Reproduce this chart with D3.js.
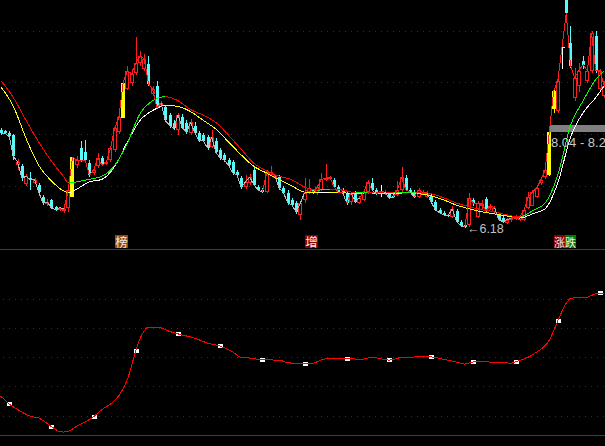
<!DOCTYPE html>
<html><head><meta charset="utf-8">
<script src="https://cdn.jsdelivr.net/npm/d3@7"></script>
<style>html,body{margin:0;padding:0;background:#000;overflow:hidden}svg{display:block}</style>
</head><body>
<svg id="chart" width="605" height="446"></svg>
<script>
// ---------- data ----------
const opens = [
8.08,8.06,8.02,7.98,7.40,7.38,7.04,7.15,7.06,7.02,
6.79,6.65,6.73,6.60,6.54,6.52,6.58,6.79,7.40,7.73,
7.65,7.44,7.25,7.38,7.54,7.42,7.50,7.69,8.04,8.31,
8.88,9.00,9.19,9.38,9.27,9.37,8.79,8.94,8.56,8.52,
8.37,8.21,8.08,8.33,8.21,8.02,8.17,8.02,7.98,7.94,
7.75,7.88,7.69,7.60,7.50,7.46,7.27,7.15,6.98,7.06,
7.31,6.98,6.92,6.88,7.21,7.15,7.17,6.96,6.87,6.73,
6.67,6.44,6.73,6.88,6.92,6.87,6.92,7.12,7.13,7.12,
6.98,6.92,6.87,6.69,6.87,6.67,6.73,6.88,7.06,6.92,
6.90,6.85,6.85,6.81,6.83,6.92,7.15,6.92,6.88,6.79,
6.87,6.79,6.81,6.69,6.54,6.48,6.44,6.40,6.52,6.31,
6.25,6.25,6.73,6.40,6.62,6.75,6.58,6.50,6.44,6.38,
6.29,6.35,6.37,6.35,6.35,6.58,6.62,6.79,7.06,7.17,
7.21,8.50,8.46,9.69,10.73,9.77,8.71,8.94,9.42,9.04,
9.23,9.90,8.88,8.75];
const closes = [
8.02,8.02,7.96,7.58,7.46,7.15,7.19,7.12,7.12,6.88,
6.67,6.69,6.58,6.54,6.58,6.56,6.92,7.56,7.50,7.50,
7.50,7.21,7.31,7.54,7.40,7.46,7.73,8.12,8.33,9.00,
9.23,9.17,9.38,9.52,9.46,8.98,8.87,8.52,8.60,8.27,
8.17,8.12,8.37,8.13,8.04,8.23,8.02,7.88,7.88,7.73,
7.94,7.65,7.54,7.50,7.40,7.25,7.21,6.98,7.08,7.17,
7.02,6.92,6.88,7.25,7.27,7.19,6.96,6.87,6.67,6.63,
6.50,6.67,6.87,6.96,6.88,6.98,7.13,7.15,7.17,6.98,
6.88,6.87,6.67,6.87,6.69,6.77,6.88,7.08,6.92,6.85,
6.90,6.88,6.77,6.79,6.92,7.17,6.92,6.88,6.79,6.92,
6.88,6.87,6.69,6.54,6.48,6.44,6.42,6.56,6.31,6.23,
6.21,6.77,6.67,6.67,6.65,6.52,6.62,6.58,6.35,6.31,
6.35,6.38,6.40,6.40,6.54,6.79,6.88,6.96,7.12,7.31,
8.04,8.83,9.04,9.69,10.35,9.33,9.10,9.23,9.35,9.23,
9.96,9.23,9.23,8.94];
const highs = [
8.12,8.08,8.06,8.00,7.52,7.42,7.23,7.27,7.15,7.06,
6.83,6.75,6.75,6.62,6.60,6.58,6.96,7.56,7.58,7.88,
7.90,7.50,7.35,7.63,7.58,7.50,7.77,8.15,8.38,9.04,
9.33,9.27,9.88,9.62,9.56,9.52,8.94,9.04,8.65,8.56,
8.42,8.27,8.42,8.40,8.27,8.29,8.23,8.06,8.02,7.98,
8.08,7.92,7.73,7.63,7.54,7.50,7.31,7.19,7.21,7.23,
7.38,7.02,6.96,7.31,7.38,7.23,7.21,7.00,6.92,6.77,
6.71,6.71,7.15,7.13,6.94,7.02,7.25,7.42,7.19,7.15,
7.02,6.96,6.90,6.88,6.90,6.81,6.92,7.12,7.15,6.96,
7.02,6.92,6.87,6.85,7.10,7.37,7.21,6.96,6.92,6.96,
6.92,6.90,6.85,6.73,6.58,6.52,6.46,6.62,6.56,6.35,
6.29,6.87,6.77,6.71,6.73,6.79,6.65,6.62,6.48,6.42,
6.38,6.42,6.44,6.44,6.58,6.88,6.92,7.02,7.15,7.35,
8.08,8.88,9.13,9.73,10.77,10.10,9.29,9.38,9.52,9.31,
10.00,10.00,9.27,9.04];
const lows = [
7.98,8.00,7.94,7.50,7.31,7.10,7.00,6.92,7.04,6.87,
6.63,6.62,6.56,6.52,6.52,6.48,6.50,6.79,7.35,7.46,
7.44,7.17,7.21,7.35,7.38,7.40,7.46,7.65,8.00,8.31,
8.85,8.94,9.15,9.33,9.23,8.94,8.75,8.50,8.52,8.23,
8.13,8.08,7.98,8.12,8.00,7.98,7.98,7.85,7.87,7.69,
7.73,7.63,7.50,7.46,7.37,7.21,7.17,6.94,6.94,7.02,
7.00,6.90,6.87,6.87,7.19,7.13,6.92,6.85,6.63,6.62,
6.46,6.35,6.67,6.85,6.85,6.83,6.90,7.10,7.12,6.96,
6.87,6.85,6.63,6.63,6.67,6.65,6.71,6.85,6.90,6.83,
6.79,6.83,6.75,6.77,6.81,6.88,6.90,6.87,6.77,6.77,
6.85,6.77,6.67,6.52,6.46,6.42,6.40,6.38,6.29,6.21,
6.18,6.21,6.62,6.38,6.54,6.48,6.54,6.48,6.33,6.29,
6.27,6.31,6.35,6.33,6.33,6.56,6.62,6.77,7.02,7.13,
7.19,8.42,8.42,9.27,10.31,9.29,8.65,8.81,9.27,9.00,
9.19,9.19,8.85,8.71];
const limitUpDays = [17, 29, 130, 131];

const maDays = [0,3,6,9,12,15,16,18,21,24,27,30,33,36,39,42,45,48,51,54,57,60,63,66,69,72,75,78,81,84,87,90,93,96,99,102,105,108,111,114,117,120,123,126,129,132,135,138,141,143];
const maUpper = [9.04,8.71,8.27,7.85,7.48,7.17,7.06,7.08,7.13,7.19,7.40,7.83,8.40,8.65,8.73,8.65,8.48,8.37,8.23,7.98,7.71,7.44,7.29,7.19,7.12,6.98,6.92,6.94,6.92,6.87,6.88,6.87,6.87,6.88,6.88,6.85,6.77,6.67,6.60,6.54,6.50,6.44,6.40,6.52,6.67,7.21,8.17,8.65,9.06,9.23];
const maLower = [8.92,8.54,7.92,7.40,7.10,6.90,6.87,6.94,7.08,7.13,7.38,7.85,8.27,8.46,8.56,8.54,8.44,8.27,8.10,7.85,7.60,7.38,7.25,7.12,7.00,6.88,6.87,6.88,6.87,6.85,6.87,6.85,6.85,6.87,6.85,6.81,6.73,6.63,6.56,6.50,6.46,6.42,6.38,6.46,6.56,7.06,7.94,8.42,8.71,8.94];

const priceTicks = [7, 8, 9, 10];
const bandRange = [8.04, 8.18];
const bandText = "8.04 - 8.2";
const tagDays = [27, 72, 131];
const tagTexts = ["榜", "增", "涨跌"];

const indDays = [-1,0,2,4,7,9,12,14,15,16,18,20,22,24,26,28,30,32,33,34,35,37,38,40,42,46,49,52,55,57,59,62,66,68,72,74,76,78,80,82,86,88,90,92,94,95,102,105,108,110,112,118,121,122,125,127,130,132,134,135,137,139,140,142,143];
const indValues = [35,33.5,28.2,24.5,19.8,18.6,12.7,9.3,9.0,9.5,13,15.9,19.5,24.5,28.2,34,45,64.6,73,78.5,80.9,81,80.4,78,76.3,73.3,70,67.9,63.8,60,59.7,58.5,58.3,56.5,55.8,56.2,58.5,59.7,59.7,59.2,59.0,60.3,59.2,58.3,59.5,60.3,60.5,58.8,57,55.6,57.1,56.9,56.2,57.1,60.3,63.8,72,85.2,97.3,100.5,101.4,101.4,102.7,104.3,104.3];
const indTicks = [20, 40, 60, 80, 100];
const markerDays = [2,12,22,32,42,52,62,72,82,92,102,112,122,132,142];

// ---------- drawing ----------
const W = 605, H = 446;
const svg = d3.select("#chart");
svg.append("rect").attr("width", W).attr("height", H).attr("fill", "#000");
const defs = svg.append("defs");
defs.append("clipPath").attr("id", "clipTop").append("rect").attr("x", 0).attr("y", 0).attr("width", W).attr("height", 248);
defs.append("clipPath").attr("id", "clipBot").append("rect").attr("x", 0).attr("y", 250).attr("width", W).attr("height", 185);

const x = d3.scaleLinear().domain([0, 143]).range([0.76, 604.2]);
const y = d3.scaleLinear().domain([7, 10]).range([186, 31]);
const yi = d3.scaleLinear().domain([20, 100]).range([416, 299.3]);

const RED = "#ff1c1c", CYAN = "#54fcfc", GRID = "#a80000";

// grid lines
svg.append("g").selectAll("line").data(priceTicks).join("line")
  .attr("x1", 3).attr("x2", W)
  .attr("y1", d => Math.floor(y(d)) + 0.5).attr("y2", d => Math.floor(y(d)) + 0.5)
  .attr("stroke", GRID).attr("stroke-dasharray", "1,5").attr("shape-rendering", "crispEdges");
svg.append("g").selectAll("line").data(indTicks).join("line")
  .attr("x1", 3).attr("x2", W)
  .attr("y1", d => Math.floor(yi(d)) + 0.5).attr("y2", d => Math.floor(yi(d)) + 0.5)
  .attr("stroke", GRID).attr("stroke-dasharray", "1,5").attr("shape-rendering", "crispEdges");
svg.append("line").attr("x1", 0).attr("x2", W).attr("y1", 249.5).attr("y2", 249.5).attr("stroke", "#d00000").attr("shape-rendering", "crispEdges");
svg.append("line").attr("x1", 0).attr("x2", W).attr("y1", 435.5).attr("y2", 435.5).attr("stroke", "#d00000").attr("shape-rendering", "crispEdges");

const gTop = svg.append("g").attr("clip-path", "url(#clipTop)");

// band
gTop.append("rect")
  .attr("x", Math.round(x(130)) + 1).attr("width", W)
  .attr("y", Math.round(y(bandRange[1]))).attr("height", Math.round(y(bandRange[0])) - Math.round(y(bandRange[1])))
  .attr("fill", "#808080");

// candles
const gC = gTop.append("g").attr("shape-rendering", "crispEdges");
d3.range(opens.length).forEach(i => {
  const cx = Math.round(x(i));
  const o = opens[i], c = closes[i], h = highs[i], l = lows[i];
  const yo = Math.round(y(o)), yc = Math.round(y(c)), yh = Math.round(y(h)), yl = Math.round(y(l));
  if (limitUpDays.includes(i)) {
    gC.append("line").attr("x1", cx + 0.5).attr("x2", cx + 0.5).attr("y1", yh).attr("y2", yl).attr("stroke", "#ffff00");
    gC.append("rect").attr("x", cx - 2).attr("width", 4).attr("y", Math.min(yo, yc)).attr("height", Math.max(1, Math.abs(yo - yc))).attr("fill", "#ffff00");
  } else if (c > o) {
    gC.append("line").attr("x1", cx + 0.5).attr("x2", cx + 0.5).attr("y1", yh).attr("y2", yc).attr("stroke", RED);
    gC.append("line").attr("x1", cx + 0.5).attr("x2", cx + 0.5).attr("y1", yo).attr("y2", yl).attr("stroke", RED);
    gC.append("rect").attr("x", cx - 1.5).attr("width", 3).attr("y", yc + 0.5).attr("height", Math.max(1, yo - yc - 1))
      .attr("fill", "#000").attr("stroke", RED);
  } else if (c < o) {
    gC.append("line").attr("x1", cx + 0.5).attr("x2", cx + 0.5).attr("y1", yh).attr("y2", yl).attr("stroke", CYAN);
    gC.append("rect").attr("x", cx - 1).attr("width", 3).attr("y", yo).attr("height", Math.max(1, yc - yo)).attr("fill", CYAN);
  } else {
    gC.append("line").attr("x1", cx + 0.5).attr("x2", cx + 0.5).attr("y1", yh).attr("y2", yl).attr("stroke", "#fff");
    gC.append("line").attr("x1", cx - 1).attr("x2", cx + 3).attr("y1", yo + 0.5).attr("y2", yo + 0.5).attr("stroke", "#fff");
  }
});

// coloured moving-average curves
function colouredCurve(vals, upColor, downColor, id) {
  const line = d3.line().x((d, k) => x(maDays[k])).y(d => y(d)).curve(d3.curveMonotoneX);
  let prev = false;
  const segs = [];
  for (let k = 0; k < vals.length - 1; k++) {
    let up = vals[k + 1] > vals[k] ? true : (vals[k + 1] < vals[k] ? false : prev);
    prev = up;
    segs.push({x0: k === 0 ? -20 : x(maDays[k]), x1: k === vals.length - 2 ? W + 20 : x(maDays[k + 1]), up});
  }
  [true, false].forEach(flag => {
    const cid = id + (flag ? "U" : "D");
    const cp = defs.append("clipPath").attr("id", cid);
    segs.filter(s => s.up === flag).forEach(s =>
      cp.append("rect").attr("x", s.x0 - 0.3).attr("y", -50).attr("width", s.x1 - s.x0 + 0.6).attr("height", 400));
    gTop.append("g").attr("clip-path", `url(#${cid})`).append("path")
      .attr("d", line(vals)).attr("fill", "none").attr("stroke", flag ? upColor : downColor)
      .attr("stroke-width", 1).attr("shape-rendering", "crispEdges");
  });
}
colouredCurve(maLower, "#ffffff", "#ffff00", "maL");
colouredCurve(maUpper, "#00ff00", "#ff0000", "maU");

// close line
const lowerAt = d3.scaleLinear().domain(maDays).range(maLower);
const gL = gTop.append("g").attr("shape-rendering", "crispEdges");
for (let i = 0; i < closes.length - 1; i++) {
  const above = closes[i + 1] >= lowerAt(i + 1);
  gL.append("line")
    .attr("x1", x(i)).attr("y1", y(closes[i])).attr("x2", x(i + 1)).attr("y2", y(closes[i + 1]))
    .attr("stroke", above ? "#ff1c1c" : "#b8b8b8").attr("stroke-width", 1);
}

// low label
const minLow = d3.min(lows), minIdx = lows.indexOf(minLow);
gTop.append("text").attr("x", x(minIdx) + 2).attr("y", y(minLow) + 5)
  .attr("fill", "#c0c0c0").attr("font-family", "Liberation Sans, Arial, sans-serif").attr("font-size", 12.5)
  .text("←" + minLow.toFixed(2));

// band label
gTop.append("text").attr("x", Math.round(x(130)) + 2).attr("y", y(bandRange[0]) + 15)
  .attr("fill", "#c8c8c8").attr("font-family", "Liberation Sans, Arial, sans-serif").attr("font-size", 13)
  .text(bandText);

// tags
const tagBg = {"榜": "#8a4a12", "增": "#8b0000", "涨": "#8b0000", "跌": "#007a00"};
tagDays.forEach((d, k) => {
  const chars = Array.from(tagTexts[k]);
  const x0 = Math.round(x(d));
  const cw = chars.length > 1 ? 11 : 13;
  chars.forEach((ch, j) => {
    svg.append("rect").attr("x", x0 + j * cw).attr("y", 235).attr("width", cw).attr("height", 13).attr("fill", tagBg[ch]);
  });
  svg.append("text").attr("x", x0).attr("y", 246.5)
    .attr("fill", "#f4ece0")
    .attr("font-family", "Noto Sans CJK SC, sans-serif").attr("font-size", cw === 13 ? 12.5 : 11)
    .attr("dx", cw === 13 ? 0.3 : 0)
    .text(tagTexts[k]);
});

// lower indicator
const gB = svg.append("g").attr("clip-path", "url(#clipBot)");
const valAt = new Map(indDays.map((d, k) => [d, indValues[k]]));
gB.selectAll("rect.mk").data(markerDays).join("rect").attr("class", "mk")
  .attr("x", d => Math.round(x(d)) - 2).attr("y", d => Math.round(yi(valAt.get(d))) - 2)
  .attr("width", 5).attr("height", 4).attr("fill", "#fff");
const indLine = d3.line().x((d, k) => x(indDays[k])).y(d => yi(d)).curve(d3.curveMonotoneX);
gB.append("path").attr("d", indLine(indValues)).attr("fill", "none").attr("stroke", "#ff0000")
  .attr("stroke-width", 1).attr("shape-rendering", "crispEdges");
</script>
</body></html>
